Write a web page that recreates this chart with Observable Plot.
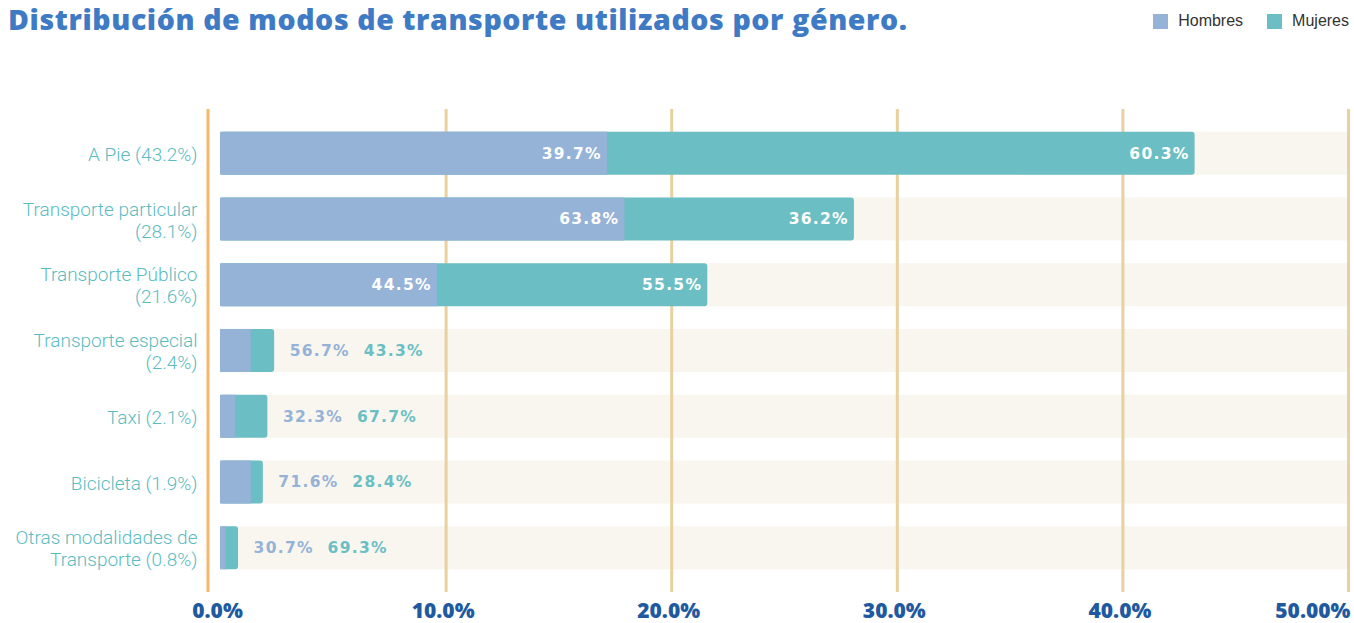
<!DOCTYPE html>
<html>
<head>
<meta charset="utf-8">
<script src="https://cdn.jsdelivr.net/npm/d3@7"></script>
<script src="https://cdn.jsdelivr.net/npm/@observablehq/plot@0.6"></script>
<style>
  html, body { margin: 0; padding: 0; background: #ffffff; }
  #wrap { position: relative; width: 1354px; height: 623px; overflow: hidden; }
  #title { position: absolute; left: 8px; top: 0px; line-height: normal; font-family: "Open Sans", sans-serif; font-weight: 800; font-size: 28.5px; letter-spacing: 0.6px; color: #3f7bc4; white-space: nowrap; }
  #legend { position: absolute; right: 5px; top: 12px; font-family: "Liberation Sans", Arial, sans-serif; font-size: 16px; color: #333; display: flex; align-items: center; }
  #legend .sw { display: inline-block; width: 15px; height: 15px; margin-right: 10px; }
  #legend .item { display: flex; align-items: center; margin-left: 24px; }
  #chart { position: absolute; left: 0; top: 0; }
</style>
</head>
<body>
<div id="wrap">
  <div id="chart"></div>
  <div id="title">Distribución de modos de transporte utilizados por género.</div>
  <div id="legend"></div>
</div>
<script>
// ---- data ----
const categories = [
  "A Pie (43.2%)",
  "Transporte particular\n(28.1%)",
  "Transporte Público\n(21.6%)",
  "Transporte especial\n(2.4%)",
  "Taxi (2.1%)",
  "Bicicleta (1.9%)",
  "Otras modalidades de\nTransporte (0.8%)"
];
const totals  = [43.2, 28.1, 21.6, 2.4, 2.1, 1.9, 0.8];
const hombres = [39.7, 63.8, 44.5, 56.7, 32.3, 71.6, 30.7];
const mujeres = [60.3, 36.2, 55.5, 43.3, 67.7, 28.4, 69.3];
const xTicks = [0, 10, 20, 30, 40, 50];
const xTickLabels = ["0.0%", "10.0%", "20.0%", "30.0%", "40.0%", "50.00%"];
const seriesNames = ["Hombres", "Mujeres"];

const colH = "#95b2d7", colM = "#6bbfc4";

const rows = categories.map((c, i) => ({
  cat: c, total: totals[i], h: hombres[i], m: mujeres[i],
  hEnd: totals[i] * hombres[i] / 100
}));
const big = rows.filter(d => d.total > 5);
const small = rows.filter(d => d.total <= 5);
const ticks = xTicks.map((v, i) => ({v, label: xTickLabels[i]}));

const labelFont = {fontFamily: "DejaVu Sans", fontWeight: "bold", fontSize: 15.5};
const tickFont = {fill: "#1f5aa0", fontFamily: "Open Sans", fontWeight: 800, fontSize: 21, lineAnchor: "middle"};

const chart = Plot.plot({
  width: 1354,
  height: 623,
  marginLeft: 220,
  marginRight: 6,
  marginTop: 109,
  marginBottom: 31,
  style: {background: "transparent", overflow: "visible"},
  x: {domain: [0, 50], axis: null},
  y: {domain: categories, padding: 0.345, round: false, axis: null},
  marks: [
    // background track
    Plot.barX(rows, {y: "cat", x1: 0, x2: 50, fill: "#f9f6ef"}),
    // gridlines
    Plot.ruleX(xTicks.filter(v => v > 0), {stroke: "#e8d19e", strokeWidth: 3}),
    // axis line (offset)
    Plot.ruleX([0], {stroke: "#f5b86a", strokeWidth: 3, dx: -12.5}),
    // bars
    Plot.barX(rows, {y: "cat", x1: 0, x2: "total", fill: colM, rx: 3}),
    Plot.barX(rows, {y: "cat", x1: 0, x2: "hEnd", fill: colH}),
    // inside labels
    Plot.text(big, {y: "cat", x: "hEnd", text: d => d.h.toFixed(1) + "%", textAnchor: "end", dx: -5.5, fill: "white", ...labelFont}),
    Plot.text(big, {y: "cat", x: "total", text: d => d.m.toFixed(1) + "%", textAnchor: "end", dx: -5.5, fill: "white", ...labelFont}),
    // outside labels
    Plot.text(small, {y: "cat", x: "total", text: d => d.h.toFixed(1) + "%", textAnchor: "start", dx: 15, fill: colH, ...labelFont}),
    Plot.text(small, {y: "cat", x: "total", text: d => d.m.toFixed(1) + "%", textAnchor: "start", dx: 89, fill: colM, ...labelFont}),
    // category labels
    Plot.text(rows, {y: "cat", x: 0, text: "cat", textAnchor: "end", dx: -23, fill: "#5bbcc0", fontFamily: "Roboto", fontWeight: 300, fontSize: 19, lineHeight: 1.16}),
    // x tick labels
    Plot.text(ticks.filter(d => d.v < 50), {x: "v", frameAnchor: "bottom", text: "label", dy: 19, dx: -3, textAnchor: "middle", ...tickFont}),
    Plot.text(ticks.filter(d => d.v === 50), {x: "v", frameAnchor: "bottom", text: "label", dy: 19, dx: 2, textAnchor: "end", ...tickFont})
  ]
});
// letter spacing for the value labels (DejaVu Sans groups)
chart.querySelectorAll('g[font-family="DejaVu Sans"]').forEach(g => {
  g.setAttribute("letter-spacing", "1.3");
  g.querySelectorAll("text").forEach(t => t.setAttribute("letter-spacing", "1.3"));
});
document.getElementById("chart").appendChild(chart);

// legend
const legend = document.getElementById("legend");
[colH, colM].forEach((c, i) => {
  const it = document.createElement("span");
  it.className = "item";
  it.innerHTML = `<span class="sw" style="background:${c}"></span><span>${seriesNames[i]}</span>`;
  legend.appendChild(it);
});
</script>
</body>
</html>
